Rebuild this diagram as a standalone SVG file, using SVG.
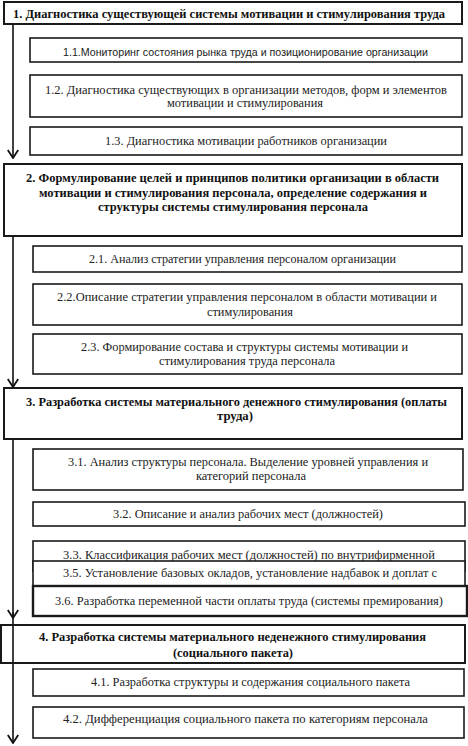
<svg xmlns="http://www.w3.org/2000/svg" width="468" height="746" viewBox="0 0 468 746">
<style>
.main{fill:#fff;stroke:#1a1a1a;stroke-width:2}
.sub{fill:#fff;stroke:#1a1a1a;stroke-width:1.6}
.thick{fill:#fff;stroke:#1a1a1a;stroke-width:2.4}
text{font-family:"Liberation Serif","DejaVu Serif",serif;font-size:11.5px;fill:#222}
text.b{font-weight:bold;font-size:12px;fill:#111}
text.s{font-family:"Liberation Sans","DejaVu Sans",sans-serif;font-size:11px}
.con{stroke:#111;stroke-width:1.6;fill:none}
</style>
<defs>
<marker id="arr" viewBox="0 0 10 12" refX="9" refY="6" markerWidth="10" markerHeight="12" markerUnits="userSpaceOnUse" orient="auto">
<path d="M1,0.8 L9,6 L1,11.2" fill="none" stroke="#111" stroke-width="1.8"/>
</marker>
</defs>
<rect width="468" height="746" fill="#fff"/>

<g id="n1"><rect class="main" x="4" y="2" width="458" height="22"/>
<text class="b" x="13" y="18" textLength="432" lengthAdjust="spacingAndGlyphs">1. Диагностика существующей системы мотивации и стимулирования труда</text></g>
<g id="n1_1"><rect class="sub" x="30" y="38" width="432" height="24"/>
<text class="s" x="63" y="56" textLength="365" lengthAdjust="spacingAndGlyphs">1.1.Мониторинг состояния рынка труда и позиционирование организации</text></g>
<g id="n1_2"><rect class="sub" x="30" y="75" width="432" height="42"/>
<text x="45" y="94" textLength="402" lengthAdjust="spacingAndGlyphs">1.2. Диагностика существующих в организации методов, форм и элементов</text>
<text x="167" y="107" textLength="156" lengthAdjust="spacingAndGlyphs">мотивации и стимулирования</text></g>
<g id="n1_3"><rect class="sub" x="30" y="127" width="432" height="28"/>
<text x="105" y="145" textLength="282" lengthAdjust="spacingAndGlyphs">1.3. Диагностика мотивации работников организации</text></g>

<g id="n2"><rect class="main" x="4" y="164" width="458" height="72"/>
<text class="b" x="26" y="182" textLength="413" lengthAdjust="spacingAndGlyphs">2. Формулирование целей и принципов политики организации в области</text>
<text class="b" x="39" y="197" textLength="388" lengthAdjust="spacingAndGlyphs">мотивации и стимулирования персонала, определение содержания и</text>
<text class="b" x="98" y="211" textLength="270" lengthAdjust="spacingAndGlyphs">структуры системы стимулирования персонала</text></g>
<g id="n2_1"><rect class="sub" x="33" y="246" width="429" height="26"/>
<text x="89" y="263" textLength="307" lengthAdjust="spacingAndGlyphs">2.1. Анализ стратегии управления персоналом организации</text></g>
<g id="n2_2"><rect class="sub" x="33" y="284" width="429" height="41"/>
<text x="57" y="301" textLength="380" lengthAdjust="spacingAndGlyphs">2.2.Описание стратегии управления персоналом в области мотивации и</text>
<text x="207" y="316" textLength="86" lengthAdjust="spacingAndGlyphs">стимулирования</text></g>
<g id="n2_3"><rect class="sub" x="33" y="334" width="429" height="40"/>
<text x="81" y="351" textLength="327" lengthAdjust="spacingAndGlyphs">2.3. Формирование состава и структуры системы мотивации и</text>
<text x="159" y="365" textLength="176" lengthAdjust="spacingAndGlyphs">стимулирования труда персонала</text></g>

<g id="n3"><rect class="main" x="4" y="388" width="458" height="51"/>
<text class="b" x="26" y="406" textLength="421" lengthAdjust="spacingAndGlyphs">3. Разработка системы материального денежного стимулирования (оплаты</text>
<text class="b" x="217" y="420" textLength="36" lengthAdjust="spacingAndGlyphs">труда)</text></g>
<g id="n3_1"><rect class="sub" x="33" y="449" width="430" height="41"/>
<text x="68" y="466" textLength="360" lengthAdjust="spacingAndGlyphs">3.1. Анализ структуры персонала. Выделение уровней управления и</text>
<text x="196" y="480" textLength="110" lengthAdjust="spacingAndGlyphs">категорий персонала</text></g>
<g id="n3_2"><rect class="sub" x="33" y="502" width="432" height="24"/>
<text x="113" y="518" textLength="270" lengthAdjust="spacingAndGlyphs">3.2. Описание и анализ рабочих мест (должностей)</text></g>
<g id="n3_3"><rect class="sub" x="33" y="541" width="432" height="30"/>
<text x="63" y="559" textLength="372" lengthAdjust="spacingAndGlyphs">3.3. Классификация рабочих мест (должностей) по внутрифирменной</text></g>
<g id="n3_5"><rect class="sub" x="33" y="561" width="432" height="30"/>
<text x="63" y="577" textLength="374" lengthAdjust="spacingAndGlyphs">3.5. Установление базовых окладов, установление надбавок и доплат с</text></g>
<g id="n3_6"><rect class="thick" x="33" y="586" width="434" height="30"/>
<text x="55" y="605" textLength="388" lengthAdjust="spacingAndGlyphs">3.6. Разработка переменной части оплаты труда (системы премирования)</text></g>

<g id="n4"><rect class="main" x="1" y="625" width="464" height="38"/>
<text class="b" x="39" y="641" textLength="387" lengthAdjust="spacingAndGlyphs">4. Разработка системы материального неденежного стимулирования</text>
<text class="b" x="173" y="657" textLength="120" lengthAdjust="spacingAndGlyphs">(социального пакета)</text></g>
<g id="n4_1"><rect class="sub" x="33" y="669" width="431" height="27"/>
<text x="91" y="686" textLength="319" lengthAdjust="spacingAndGlyphs">4.1. Разработка структуры и содержания социального пакета</text></g>
<g id="n4_2"><rect class="sub" x="33" y="707" width="431" height="31"/>
<text x="63" y="723" textLength="365" lengthAdjust="spacingAndGlyphs">4.2. Дифференциация социального пакета по категориям персонала</text></g>

<g id="connectors">
<path class="con" d="M13,24 V158" marker-end="url(#arr)"/>
<path class="con" d="M13,236 V387" marker-end="url(#arr)"/>
<path class="con" d="M13,439 V618" marker-end="url(#arr)"/>
<path class="con" d="M13,612 V743" marker-end="url(#arr)"/>
</g>
</svg>
